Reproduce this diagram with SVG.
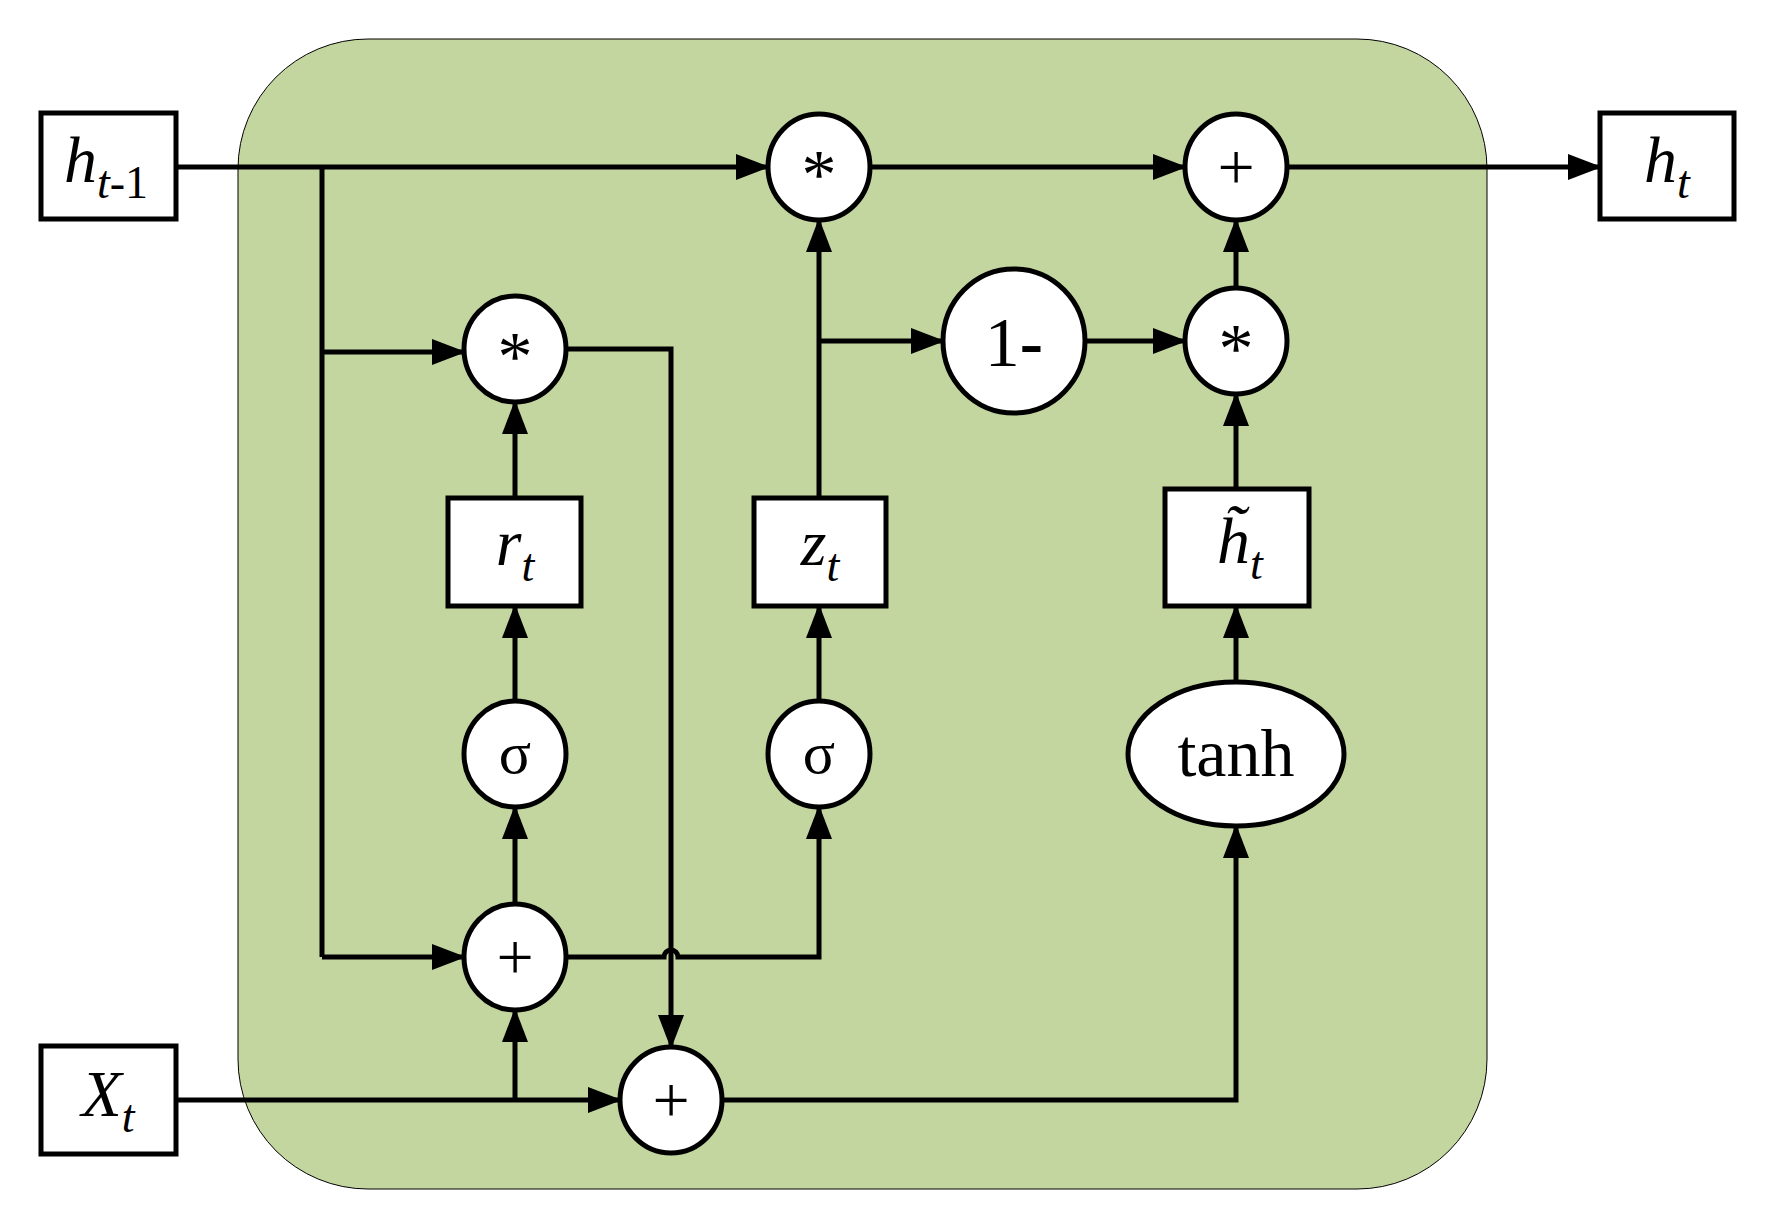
<svg xmlns="http://www.w3.org/2000/svg" width="1777" height="1228" viewBox="0 0 1777 1228">
<defs>
<marker id="ah" markerUnits="userSpaceOnUse" markerWidth="34" markerHeight="26" refX="32" refY="13" orient="auto"><path d="M0,0 L34,13 L0,26 Z" fill="#000"/></marker>
<style>
.n{fill:#fff;stroke:#000;stroke-width:5}
.c{fill:none;stroke:#000;stroke-width:5}
.a{marker-end:url(#ah)}
text{font-family:"Liberation Serif","Times New Roman",serif;fill:#000;text-anchor:middle}
.i{font-style:italic}
</style>
</defs>
<rect x="238" y="39" width="1249" height="1150" rx="130" ry="130" fill="#c4d6a0" stroke="#000" stroke-width="1"/>
<g id="connectors">
<path class="c a" d="M176,167 H768"/>
<path class="c" d="M322,167 V957"/>
<path class="c a" d="M322,352 H464"/>
<path class="c a" d="M322,957 H464"/>
<path class="c a" d="M870,167 H1185"/>
<path class="c a" d="M1287,167 H1600"/>
<path class="c a" d="M1236,288 V220"/>
<path class="c a" d="M1014,341 H1185"/>
<path class="c a" d="M819,341 H943"/>
<path class="c a" d="M819,498 V220"/>
<path class="c a" d="M1236,489 V394"/>
<path class="c a" d="M1236,682 V606"/>
<path class="c a" d="M515,498 V402"/>
<path class="c a" d="M515,701 V606"/>
<path class="c a" d="M819,701 V606"/>
<path class="c a" d="M515,904 V807"/>
<path class="c a" d="M566,957 H664 A7,7 0 0 1 678,957 H819 V807"/>
<path class="c a" d="M566,349 H671 V1047"/>
<path class="c a" d="M176,1100 H620"/>
<path class="c a" d="M515,1100 V1010"/>
<path class="c a" d="M722,1100 H1236 V826"/>
</g>
<g id="h_prev"><rect class="n" x="41" y="113" width="135" height="106"/><text x="106" y="182" font-size="66"><tspan class="i">h</tspan><tspan class="i" font-size="46" dy="16">t</tspan><tspan font-size="46">-1</tspan></text></g>
<g id="h_t"><rect class="n" x="1600" y="113" width="134" height="106"/><text x="1667" y="182" font-size="66"><tspan class="i">h</tspan><tspan class="i" font-size="46" dy="16">t</tspan></text></g>
<g id="x_t"><rect class="n" x="41" y="1046" width="135" height="108"/><text x="108" y="1116" font-size="66"><tspan class="i">X</tspan><tspan class="i" font-size="46" dy="16">t</tspan></text></g>
<g id="mul_top"><ellipse class="n" cx="819" cy="167" rx="51" ry="53"/><text x="819" y="198" font-size="70">*</text></g>
<g id="add_top"><ellipse class="n" cx="1236" cy="167" rx="51" ry="53"/><text x="1236" y="189" font-size="66">+</text></g>
<g id="mul_mid"><ellipse class="n" cx="1236" cy="341" rx="51" ry="53"/><text x="1236" y="372" font-size="70">*</text></g>
<g id="one_minus"><ellipse class="n" cx="1014" cy="341" rx="71" ry="72"/><text x="1014" y="366" font-size="70">1<tspan font-weight="bold">-</tspan></text></g>
<g id="mul_r"><ellipse class="n" cx="515" cy="349" rx="51" ry="53"/><text x="515" y="380" font-size="70">*</text></g>
<g id="r_t"><rect class="n" x="448" y="498" width="133" height="108"/><text x="515" y="565" font-size="66"><tspan class="i">r</tspan><tspan class="i" font-size="46" dy="16">t</tspan></text></g>
<g id="z_t"><rect class="n" x="754" y="498" width="132" height="108"/><text x="820" y="565" font-size="66"><tspan class="i">z</tspan><tspan class="i" font-size="46" dy="16">t</tspan></text></g>
<g id="h_tilde"><rect class="n" x="1165" y="489" width="144" height="117"/><text x="1240" y="563" font-size="66"><tspan class="i">h̃</tspan><tspan class="i" font-size="46" dy="16">t</tspan></text></g>
<g id="sigma_r"><ellipse class="n" cx="515" cy="754" rx="51" ry="53"/><text x="515" y="773" font-size="60">σ</text></g>
<g id="sigma_z"><ellipse class="n" cx="819" cy="754" rx="51" ry="53"/><text x="819" y="773" font-size="60">σ</text></g>
<g id="tanh"><ellipse class="n" cx="1236" cy="754" rx="108" ry="72"/><text x="1236" y="776" font-size="68">tanh</text></g>
<g id="add_mid"><ellipse class="n" cx="515" cy="957" rx="51" ry="53"/><text x="515" y="979" font-size="66">+</text></g>
<g id="add_bot"><ellipse class="n" cx="671" cy="1100" rx="51" ry="53"/><text x="671" y="1122" font-size="66">+</text></g>
</svg>
